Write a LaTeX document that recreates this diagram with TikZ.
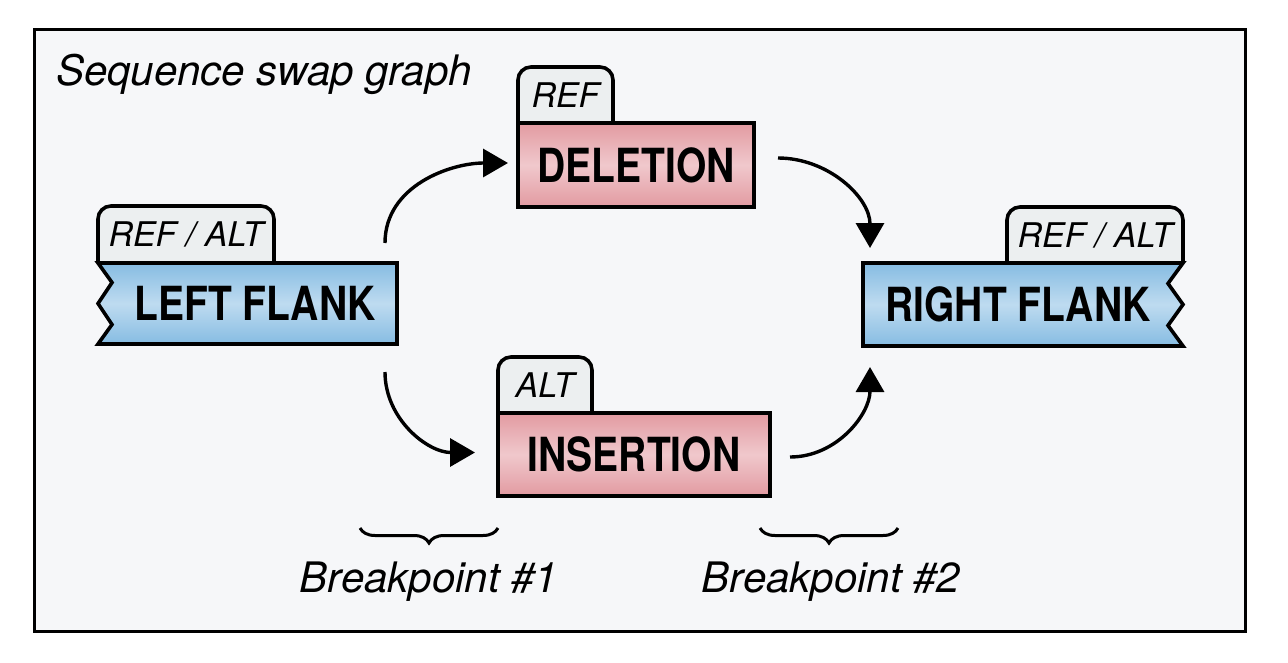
\documentclass[tikz,border=0pt]{standalone}
\usepackage{fontspec}
\setmainfont{TeX Gyre Heros}
\newfontfamily\labfont{TeX Gyre Heros}[FakeStretch=0.83]
\newfontfamily\itfont{TeX Gyre Heros}
\usetikzlibrary{arrows.meta,decorations.pathreplacing,calc}
\definecolor{bgc}{HTML}{F6F7F9}
\definecolor{tabc}{HTML}{ECEFF0}
\definecolor{blueedge}{HTML}{86BCE2}
\definecolor{bluemid}{HTML}{BEDBF0}
\definecolor{pinkedge}{HTML}{E29AA1}
\definecolor{pinkmid}{HTML}{F0C8CC}
\tikzset{
  boxnode/.style={draw=none,inner sep=0pt,outer sep=0pt},
  bluefill/.style={top color=blueedge,bottom color=blueedge,middle color=bluemid},
  pinkfill/.style={top color=pinkedge,bottom color=pinkedge,middle color=pinkmid},
  outline/.style={draw=black,line width=3.6pt,line join=miter},
  tabshape/.style={fill=tabc,draw=black,line width=3.6pt,rounded corners=13pt},
  lab/.style={inner sep=0pt,font=\labfont\bfseries\fontsize{47}{50}\selectfont},
  tablab/.style={inner sep=0pt,font=\itfont\itshape\fontsize{34}{38}\selectfont},
  itlab/.style={inner sep=0pt,font=\itfont\itshape\fontsize{42}{46}\selectfont},
  arr/.style={draw=black,line width=3.4pt,-{Triangle[length=25pt,width=28pt]}},
  bracepath/.style={draw=black,line width=3pt,decorate,decoration={brace,mirror,amplitude=15pt}}
}
\begin{document}
\begin{tikzpicture}[x=1pt,y=-1pt]
\useasboundingbox (0,0) rectangle (1288,662);
\fill[white] (0,0) rectangle (1288,662);
\draw[fill=bgc,line width=3.2pt] (34.5,29.5) rectangle (1245.5,631.5);
\node[itlab,anchor=base west] (title) at (56,85) {Sequence swap graph};

% LEFT FLANK
\node[boxnode,minimum width=299pt,minimum height=81pt] (lf) at (247.5,303.5) {};
\draw[tabshape] (lf.north west) -- ++(0,-57) -- ++(176,0) -- ++(0,57);
\node[tablab] (lftab) at ($(lf.north west)+(88,-28.5)$) {REF / ALT};
\shade[bluefill] (lf.north west) -- (lf.north east) -- (lf.south east) -- (lf.south west)
  -- ([xshift=14pt,yshift=-21pt]lf.west) -- (lf.west) -- ([xshift=14pt,yshift=21pt]lf.west) -- cycle;
\draw[outline] (lf.north west) -- (lf.north east) -- (lf.south east) -- (lf.south west)
  -- ([xshift=14pt,yshift=-21pt]lf.west) -- (lf.west) -- ([xshift=14pt,yshift=21pt]lf.west) -- cycle;
\node[lab] (lft) at (255,303.5) {LEFT FLANK};

% DELETION
\node[boxnode,minimum width=236pt,minimum height=84pt] (del) at (636,165) {};
\draw[tabshape] (del.north west) -- ++(0,-56) -- ++(95,0) -- ++(0,56);
\node[tablab] (deltab) at ($(del.north west)+(47.5,-28)$) {REF};
\shade[pinkfill] (del.north west) rectangle (del.south east);
\draw[outline] (del.north west) rectangle (del.south east);
\node[lab] (delt) at (del.center) {DELETION};

% INSERTION
\node[boxnode,minimum width=272pt,minimum height=83pt] (ins) at (634,454.5) {};
\draw[tabshape] (ins.north west) -- ++(0,-56) -- ++(94,0) -- ++(0,56);
\node[tablab] (instab) at ($(ins.north west)+(47,-28)$) {ALT};
\shade[pinkfill] (ins.north west) rectangle (ins.south east);
\draw[outline] (ins.north west) rectangle (ins.south east);
\node[lab] (inst) at (ins.center) {INSERTION};

% RIGHT FLANK
\node[boxnode,minimum width=320pt,minimum height=83pt] (rf) at (1023,304.5) {};
\draw[tabshape] ([xshift=-176pt]rf.north east) -- ++(0,-56) -- ++(176,0) -- ++(0,56);
\node[tablab] (rftab) at ($(rf.north east)+(-88,-28)$) {REF / ALT};
\shade[bluefill] (rf.north east) -- (rf.north west) -- (rf.south west) -- (rf.south east)
  -- ([xshift=-15pt,yshift=-21pt]rf.east) -- (rf.east) -- ([xshift=-15pt,yshift=21pt]rf.east) -- cycle;
\draw[outline] (rf.north east) -- (rf.north west) -- (rf.south west) -- (rf.south east)
  -- ([xshift=-15pt,yshift=-21pt]rf.east) -- (rf.east) -- ([xshift=-15pt,yshift=21pt]rf.east) -- cycle;
\node[lab] (rft) at (1018,304.5) {RIGHT FLANK};

% connectors
\draw[arr] ([xshift=-12pt,yshift=20pt]lf.north east) to[out=90,in=180] ([xshift=-10pt,yshift=2pt]del.west);
\draw[arr] ([xshift=24pt,yshift=7pt]del.east) to[out=0,in=90] ([xshift=7pt,yshift=15pt]rf.north west);
\draw[arr] ([xshift=-12pt,yshift=-28pt]lf.south east) to[out=-90,in=180] ([xshift=-23pt,yshift=2pt]ins.west);
\draw[arr] ([xshift=20pt,yshift=-2.5pt]ins.east) to[out=0,in=-90] ([xshift=7pt,yshift=-21pt]rf.south west);

% breakpoints
\coordinate (b1l) at (360,528);
\coordinate (b1r) at (498,528);
\coordinate (b2l) at (760,528);
\coordinate (b2r) at (898,528);
\draw[bracepath] (b1l) -- (b1r);
\draw[bracepath] (b2l) -- (b2r);
\node[itlab,anchor=base] (bp1) at (429,592) {Breakpoint \#1};
\node[itlab,anchor=base] (bp2) at (831,592) {Breakpoint \#2};
\end{tikzpicture}
\end{document}
